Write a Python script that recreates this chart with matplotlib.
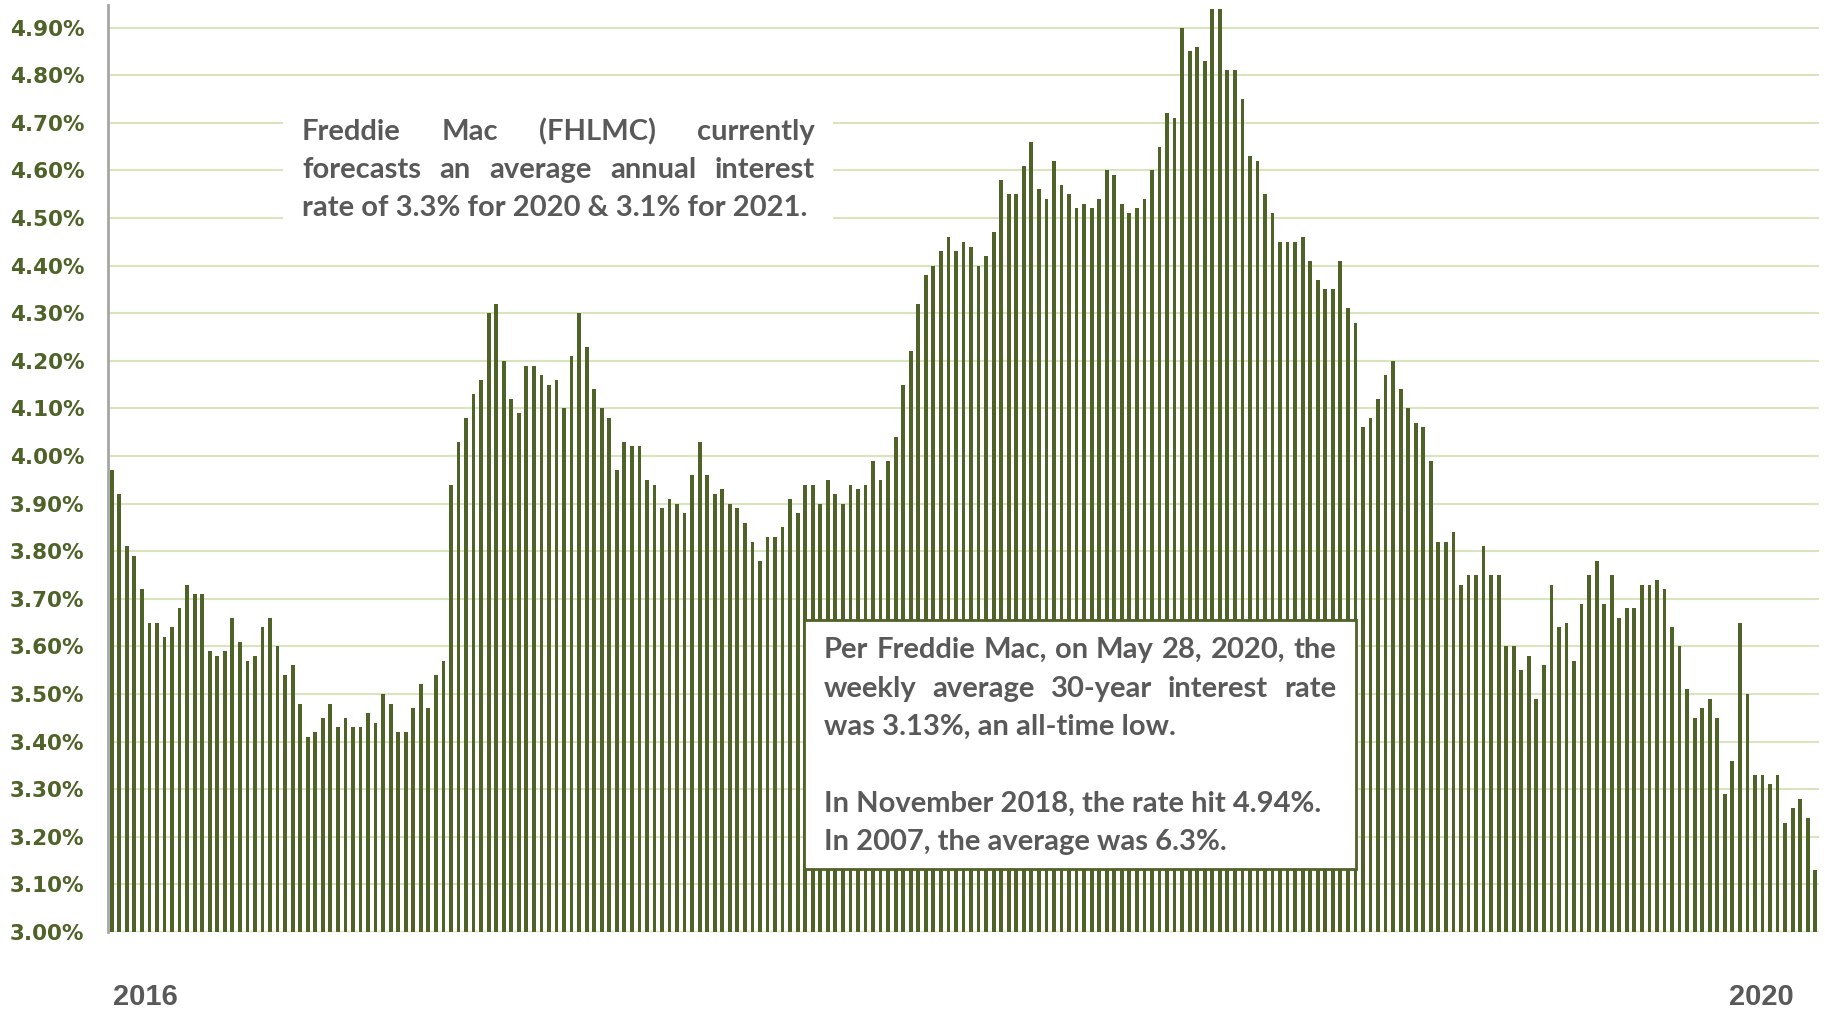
import matplotlib
matplotlib.use("Agg")
import matplotlib.pyplot as plt
from matplotlib.patches import Rectangle
import numpy as np

# ---------------- data ----------------
rates = [
    3.97, 3.92, 3.81, 3.79, 3.72, 3.65, 3.65, 3.62, 3.64, 3.68,
    3.73, 3.71, 3.71, 3.59, 3.58, 3.59, 3.66, 3.61, 3.57, 3.58,
    3.64, 3.66, 3.60, 3.54, 3.56, 3.48, 3.41, 3.42, 3.45, 3.48,
    3.43, 3.45, 3.43, 3.43, 3.46, 3.44, 3.50, 3.48, 3.42, 3.42,
    3.47, 3.52, 3.47, 3.54, 3.57, 3.94, 4.03, 4.08, 4.13, 4.16,
    4.30, 4.32, 4.20, 4.12, 4.09, 4.19, 4.19, 4.17, 4.15, 4.16,
    4.10, 4.21, 4.30, 4.23, 4.14, 4.10, 4.08, 3.97, 4.03, 4.02,
    4.02, 3.95, 3.94, 3.89, 3.91, 3.90, 3.88, 3.96, 4.03, 3.96,
    3.92, 3.93, 3.90, 3.89, 3.86, 3.82, 3.78, 3.83, 3.83, 3.85,
    3.91, 3.88, 3.94, 3.94, 3.90, 3.95, 3.92, 3.90, 3.94, 3.93,
    3.94, 3.99, 3.95, 3.99, 4.04, 4.15, 4.22, 4.32, 4.38, 4.40,
    4.43, 4.46, 4.43, 4.45, 4.44, 4.40, 4.42, 4.47, 4.58, 4.55,
    4.55, 4.61, 4.66, 4.56, 4.54, 4.62, 4.57, 4.55, 4.52, 4.53,
    4.52, 4.54, 4.60, 4.59, 4.53, 4.51, 4.52, 4.54, 4.60, 4.65,
    4.72, 4.71, 4.90, 4.85, 4.86, 4.83, 4.94, 4.94, 4.81, 4.81,
    4.75, 4.63, 4.62, 4.55, 4.51, 4.45, 4.45, 4.45, 4.46, 4.41,
    4.37, 4.35, 4.35, 4.41, 4.31, 4.28, 4.06, 4.08, 4.12, 4.17,
    4.20, 4.14, 4.10, 4.07, 4.06, 3.99, 3.82, 3.82, 3.84, 3.73,
    3.75, 3.75, 3.81, 3.75, 3.75, 3.60, 3.60, 3.55, 3.58, 3.49,
    3.56, 3.73, 3.64, 3.65, 3.57, 3.69, 3.75, 3.78, 3.69, 3.75,
    3.66, 3.68, 3.68, 3.73, 3.73, 3.74, 3.72, 3.64, 3.60, 3.51,
    3.45, 3.47, 3.49, 3.45, 3.29, 3.36, 3.65, 3.50, 3.33, 3.33,
    3.31, 3.33, 3.23, 3.26, 3.28, 3.24, 3.13,
]
weeks = list(range(len(rates)))
y_ticks = [3.00, 3.10, 3.20, 3.30, 3.40, 3.50, 3.60, 3.70, 3.80, 3.90,
           4.00, 4.10, 4.20, 4.30, 4.40, 4.50, 4.60, 4.70, 4.80, 4.90]
year_labels = ["2016", "2020"]
year_positions = [0.2, 218.8]

note1_lines = ["Freddie Mac (FHLMC) currently",
               "forecasts an average annual interest",
               "rate of 3.3% for 2020 & 3.1% for 2021."]
note1_justify = [True, True, False]
note2_lines = ["Per Freddie Mac, on May 28, 2020, the",
               "weekly average 30-year interest rate",
               "was 3.13%, an all-time low.",
               "In November 2018, the rate hit 4.94%.",
               "In 2007, the average was 6.3%."]
note2_justify = [True, True, False, False, False]

# ---------------- style ----------------
W, H = 1825, 1010
BAR = "#4f6228"
GRID = "#d7e4bd"
TXT = "#595959"

fig = plt.figure(figsize=(W / 100, H / 100), dpi=100)
ax = fig.add_axes([108 / W, (H - 932) / H, (1819 - 108) / W, (932 - 5) / H])

ax.bar(weeks, rates, width=0.5, color=BAR, zorder=3)
ax.set_xlim(-0.5, len(rates) - 0.5)
ax.set_ylim(3.0, 4.9475)
ax.set_yticks(y_ticks)
ax.set_yticklabels([f"{v:.2f}%" for v in y_ticks], fontsize=15.5,
                   fontweight="bold", color=BAR, family="DejaVu Sans")
ax.tick_params(axis="y", length=0, pad=17)
ax.set_xticks([])
ax.yaxis.grid(True, color=GRID, linewidth=1.5, zorder=0)
ax.set_axisbelow(True)
for s in ["top", "right", "bottom"]:
    ax.spines[s].set_visible(False)
ax.spines["left"].set_color("#a6a6a6")
ax.spines["left"].set_linewidth(2)

# year labels
for lab, pos, ha in zip(year_labels, year_positions, ["left", "center"]):
    ax.text(pos, -(1005 - 932) / 927, lab, transform=ax.get_xaxis_transform(),
            ha=ha, va="baseline", fontsize=21, fontweight="bold",
            color=TXT, family="Liberation Sans")

def px2fig(x, y):
    return x / W, 1 - y / H

# white box behind note 1
x0, y0 = px2fig(283, 245)
x1, y1 = px2fig(833, 92)
fig.patches.append(Rectangle((x0, y0), x1 - x0, y1 - y0, transform=fig.transFigure,
                             facecolor="white", edgecolor="none", zorder=1.5))
# bordered box for note 2
x0, y0 = px2fig(804, 869)
x1, y1 = px2fig(1356, 620)
box2 = Rectangle((x0, y0), x1 - x0, y1 - y0, transform=fig.transFigure,
                 facecolor="white", edgecolor=BAR, linewidth=2, zorder=5)
fig.add_artist(box2)

renderer = fig.canvas.get_renderer()
FONT = dict(family="Lato", fontweight="bold", color=TXT)

# fit font size so the non-justified line matches its measured width
probe = fig.text(0, 0, note1_lines[2], fontsize=18, **FONT)
wp = probe.get_window_extent(renderer).width
probe.remove()
FS = 18 * 506 / wp

def draw_lines(lines, flags, left, right, baselines):
    for line, just, yb in zip(lines, flags, baselines):
        fx, fy = px2fig(left, yb)
        if not just:
            fig.text(fx, fy, line, fontsize=FS, ha="left", va="baseline", zorder=6, **FONT)
            continue
        words = line.split(" ")
        arts = [fig.text(0, fy, w, fontsize=FS, ha="left", va="baseline", zorder=6, **FONT)
                for w in words]
        widths = [a.get_window_extent(renderer).width for a in arts]
        gap = (right - left - sum(widths)) / (len(words) - 1)
        xp = left
        for a, w in zip(arts, widths):
            a.set_x(xp / W)
            xp += w + gap

draw_lines(note1_lines, note1_justify, 302, 815, [140, 178, 216])
draw_lines(note2_lines, note2_justify, 824, 1336, [658, 697, 735, 812, 850])

fig.savefig("out.png", dpi=100, facecolor="white")
